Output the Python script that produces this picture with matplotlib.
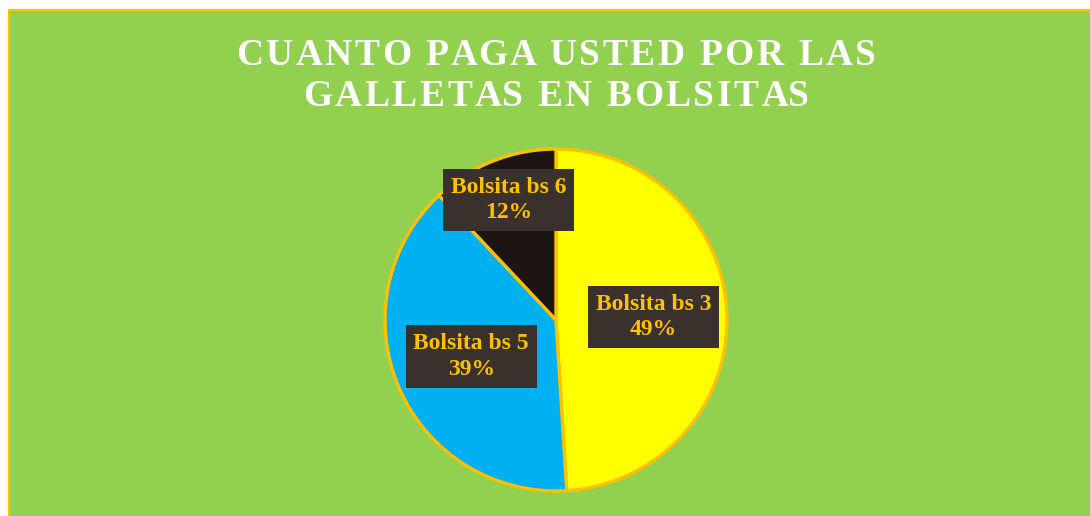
import matplotlib
matplotlib.use('Agg')
import matplotlib.pyplot as plt
from matplotlib.patches import Rectangle
import numpy as np

# data
labels = ['Bolsita bs 3', 'Bolsita bs 5', 'Bolsita bs 6']
shares = [49, 39, 12]
colors = ['#FFFF00', '#00B0F0', '#1C1513']
label_radius = [0.57, 0.54, 0.755]
title_lines = ['CUANTO PAGA USTED POR LAS', 'GALLETAS EN BOLSITAS']

W, H = 1090, 516
GREEN = '#92D050'
GOLD = '#FFC000'
BOX = '#3B312C'
SERIF = ['Liberation Serif', 'DejaVu Serif']

fig = plt.figure(figsize=(W / 100, H / 100), dpi=100)
fig.patch.set_facecolor('white')
fig.patches.append(Rectangle((9 / W, -0.05), 1.1, (H - 10) / H + 0.05,
                             transform=fig.transFigure, facecolor=GREEN,
                             edgecolor=GOLD, linewidth=1.6, zorder=-5))

# pie: center (556, 320) px from top, radius 171 px
cx, cy, rad, half = 556, H - 320, 171, 182
ax = fig.add_axes([(cx - half) / W, (cy - half) / H, 2 * half / W, 2 * half / H])
ax.set_facecolor('none')
wedges, _ = ax.pie(shares, colors=colors, startangle=90, counterclock=False,
                   wedgeprops=dict(edgecolor=GOLD, linewidth=2.4))
lim = half / rad
ax.set_xlim(-lim, lim)
ax.set_ylim(-lim, lim)
ax.set_aspect('equal')
ax.axis('off')

for w, lab, pct, r in zip(wedges, labels, shares, label_radius):
    ang = np.deg2rad((w.theta1 + w.theta2) / 2)
    ax.text(r * np.cos(ang), r * np.sin(ang), f'{lab}\n{pct}%',
            ha='center', va='center', family=SERIF, fontweight='bold',
            fontsize=17, color=GOLD, linespacing=1.3,
            bbox=dict(boxstyle='square,pad=0.33', facecolor=BOX, edgecolor='none'))

# title with letter spacing
renderer = fig.canvas.get_renderer()
tkw = dict(family=SERIF, fontweight='bold', fontsize=27, color='white')


def width(s):
    t = fig.text(0, 0, s, **tkw)
    bb = t.get_window_extent(renderer)
    t.remove()
    return bb.width


def tracked(s, x_mid, y_base, track):
    ref = width('H')
    offs = [width(s[:i] + 'H') - ref for i in range(len(s))]
    total = width(s) + track * (len(s) - 1)
    x0 = x_mid - total / 2
    for i, ch in enumerate(s):
        if ch == ' ':
            continue
        fig.text((x0 + offs[i] + track * i) / W, y_base / H, ch,
                 ha='left', va='baseline', **tkw)


tracked(title_lines[0], 556, H - 65, 2.6)
tracked(title_lines[1], 556, H - 106, 2.6)

fig.savefig('out.png', dpi=100, facecolor=fig.get_facecolor())
